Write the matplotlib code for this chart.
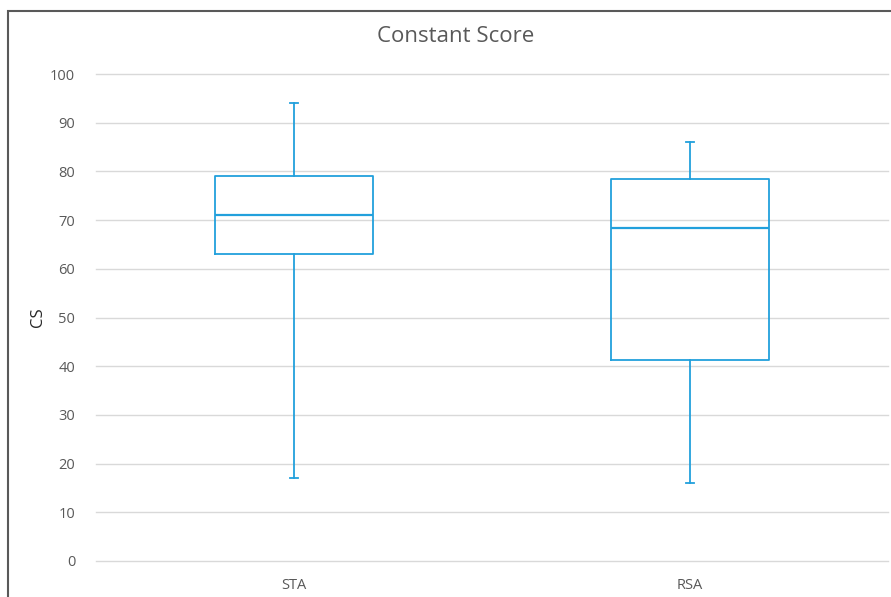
import matplotlib
matplotlib.use("Agg")
from matplotlib import pyplot as plt
from matplotlib.patches import Rectangle

# five-number summary per group
grupos = ["STA", "RSA"]
minimos = [17, 16]
q1 = [63, 41.2]
medianas = [71, 68.4]
q3 = [79, 78.5]
maximos = [94, 86]

azul = "#22a0dc"
gris = "#595959"

plt.rcParams["font.family"] = ["Open Sans", "DejaVu Sans"]

fig = plt.figure(figsize=(8.91, 5.97), dpi=100)
ax = fig.add_axes([96 / 891, 36 / 597, 792 / 891, 487 / 597])

stats = []
for i, nombre in enumerate(grupos):
    stats.append({
        "label": nombre,
        "whislo": minimos[i],
        "q1": q1[i],
        "med": medianas[i],
        "q3": q3[i],
        "whishi": maximos[i],
        "fliers": [],
    })

ax.bxp(stats, positions=[1, 2], widths=0.4, showfliers=False,
       boxprops=dict(color=azul, linewidth=1.3),
       medianprops=dict(color=azul, linewidth=1.6),
       whiskerprops=dict(color=azul, linewidth=1.3),
       capprops=dict(color=azul, linewidth=1.3),
       capwidths=0.02)

ax.set_xlim(0.5, 2.5)
ax.set_ylim(0, 100)
ax.set_yticks(range(0, 101, 10))
ax.grid(axis="y", color="#d9d9d9", linewidth=1)
for linea in ax.get_ygridlines():
    linea.set_clip_on(False)
ax.set_axisbelow(True)
for s in ax.spines.values():
    s.set_visible(False)
ax.tick_params(axis="both", length=0, labelsize=10.5, colors=gris)
ax.tick_params(axis="y", pad=15)
ax.tick_params(axis="x", pad=12)

ax.set_ylabel("CS", fontsize=12, color="#262626")
ax.yaxis.set_label_coords(-50 / 792, 0.5)
fig.text(456 / 891, 1 - 37 / 597, "Constant Score", ha="center", va="center",
         fontsize=16, color=gris)

# chart border
fig.patches.append(Rectangle((8 / 891, -0.1), 1.0, 1 - 11 / 597 + 0.1,
                             transform=fig.transFigure, fill=False,
                             edgecolor="#595959", linewidth=1.5))

plt.savefig("out.png", dpi=100)
